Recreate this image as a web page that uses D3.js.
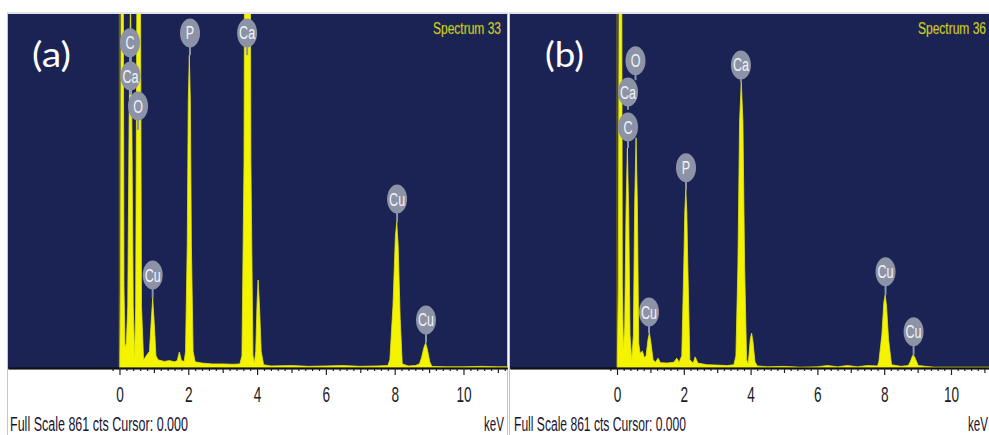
<!DOCTYPE html>
<html><head><meta charset="utf-8">
<script src="https://cdn.jsdelivr.net/npm/d3@7"></script>
<style>html,body{margin:0;padding:0;background:#fff;overflow:hidden;} svg{display:block;}</style>
</head><body><svg id="c" width="989" height="435"></svg>
<script>
// ---------------- data ----------------
const tickLabels = [0, 2, 4, 6, 8, 10];
const fullScale = 861;                       // cts
const spectrumNames = ["Spectrum 33", "Spectrum 36"];
const panelLetters = ["(a)", "(b)"];
const footerText = "Full Scale 861 cts Cursor: 0.000";
const unitText = "keV";

// spectrum (a): [keV, counts]
const specA = [
  [0.01,20],[0.03,200],[0.06,1500],[0.08,3000],[0.10,1500],[0.13,200],
  [0.16,51],[0.20,60],
  [0.24,150],[0.28,600],[0.32,900],[0.36,600],[0.40,150],
  [0.44,27],
  [0.47,150],[0.52,1200],[0.56,2500],[0.60,1200],[0.64,150],
  [0.70,20],[0.78,30],[0.83,36],
  [0.87,40],[0.92,110],[0.965,170],[1.01,110],[1.06,30],
  [1.12,20],[1.30,16],[1.45,18],[1.60,15],[1.68,18],[1.74,39],[1.80,18],[1.88,16],
  [1.92,40],[1.97,300],[2.00,650],[2.03,761],[2.06,650],[2.09,300],[2.14,40],[2.20,15],
  [2.40,12],[2.70,10],[3.00,10],[3.30,9],[3.50,10],
  [3.56,30],[3.62,500],[3.67,2000],[3.72,3000],[3.77,2000],[3.82,500],[3.88,30],
  [3.92,12],
  [3.96,40],[4.00,160],[4.03,214],[4.07,150],[4.12,40],[4.19,8],
  [4.40,5],[5.00,6],[5.50,4],[6.00,5],[6.50,6],[7.00,4],[7.50,5],[7.80,6],
  [7.86,20],[7.95,150],[8.02,320],[8.06,355],[8.10,300],[8.16,120],[8.22,10],
  [8.40,5],[8.60,6],[8.72,10],
  [8.78,25],[8.85,50],[8.90,61],[8.95,45],[9.02,15],[9.08,4],
  [9.50,3],[10.00,3],[10.50,4],[11.00,3],[11.30,3]
];

// spectrum (b): [keV, counts]
const specB = [
  [0.01,20],[0.04,200],[0.08,1500],[0.105,3000],[0.13,1500],[0.16,200],
  [0.19,49],
  [0.23,100],[0.27,380],[0.31,535],[0.35,380],[0.39,80],
  [0.44,19],
  [0.49,80],[0.53,400],[0.57,560],[0.61,400],[0.65,60],
  [0.69,36],[0.76,41],[0.82,25],
  [0.87,30],[0.93,70],[0.97,85],[1.01,65],[1.08,20],
  [1.15,14],[1.23,24],[1.30,13],[1.50,12],[1.70,14],[1.79,24],[1.86,14],
  [1.94,30],[2.00,250],[2.03,380],[2.06,433],[2.09,380],[2.12,250],[2.18,20],
  [2.28,12],[2.34,27],[2.42,12],[2.70,8],[3.00,7],[3.30,6],[3.50,8],
  [3.56,30],[3.62,250],[3.67,600],[3.72,696],[3.77,600],[3.82,250],[3.88,20],
  [3.92,10],
  [3.95,30],[3.99,70],[4.03,85],[4.07,65],[4.13,15],[4.20,5],
  [4.50,3],[5.00,4],[5.50,2],[6.00,3],[6.30,6],[6.60,3],[6.90,6],[7.20,3],[7.50,6],[7.80,5],
  [7.84,15],[7.93,80],[7.99,160],[8.03,178],[8.07,150],[8.13,70],[8.22,8],
  [8.50,4],[8.72,6],
  [8.78,15],[8.84,28],[8.87,32],[8.92,25],[9.02,6],
  [9.50,2],[10.00,2],[10.50,2],[11.20,2]
];

// peak markers: element, label centre (keV, cts), stem end (cts)
const peakLabelsA = [
  {el:"C",  keV:0.305, cts:791, stem:744},
  {el:"Ca", keV:0.32,  cts:710, stem:664},
  {el:"O",  keV:0.54,  cts:637, stem:579},
  {el:"Cu", keV:0.965, cts:226, stem:170},
  {el:"P",  keV:2.05,  cts:815, stem:761},
  {el:"Ca", keV:3.71,  cts:815, stem:761},
  {el:"Cu", keV:8.07,  cts:411, stem:355},
  {el:"Cu", keV:8.91,  cts:117, stem:61}
];
const peakLabelsB = [
  {el:"O",  keV:0.554, cts:747, stem:700},
  {el:"Ca", keV:0.33,  cts:671, stem:628},
  {el:"C",  keV:0.33,  cts:586, stem:535},
  {el:"P",  keV:2.066, cts:487, stem:433},
  {el:"Cu", keV:0.958, cts:136, stem:85},
  {el:"Ca", keV:3.71,  cts:737, stem:696},
  {el:"Cu", keV:8.04,  cts:234, stem:178},
  {el:"Cu", keV:8.88,  cts:88,  stem:32}
];

// ---------------- layout ----------------
const plotTop = 14, axisY = 368;
const layouts = [
  {left:8,   right:507, domain:[-3.241, 11.265], footX:10,  footW:178, unitX:484, nameX:433, letterX:32},
  {left:510, right:989, domain:[-3.204, 11.138], footX:514, footW:172, unitX:968, nameX:918, letterX:545}
];
const NAVY = "#1b2354", YEL = "#f4f400", OLIVE = "#5e5c26", LABEL = "#8d93a6";

const svg = d3.select("#c");
svg.append("rect").attr("width",989).attr("height",435).attr("fill","#fff");

function drawPanel(i, spec, labels) {
  const L = layouts[i];
  const g = svg.append("g");
  const x = d3.scaleLinear().domain(L.domain).range([L.left, L.right]);
  const y = d3.scaleLinear().domain([0, fullScale]).range([axisY, plotTop]);

  const clipId = "clip" + i;
  svg.append("defs").append("clipPath").attr("id", clipId)
    .append("rect").attr("x", L.left).attr("y", plotTop)
    .attr("width", L.right - L.left).attr("height", axisY - plotTop);

  // frame
  g.append("rect").attr("x", L.left - 0.5).attr("y", plotTop - 1)
    .attr("width", L.right - L.left + 1).attr("height", 435 - plotTop + 2)
    .attr("fill", "none").attr("stroke", "#c3c6d2").attr("stroke-width", 1);
  g.append("rect").attr("x", L.left).attr("y", plotTop)
    .attr("width", L.right - L.left).attr("height", axisY - plotTop).attr("fill", NAVY);

  const pg = g.append("g").attr("clip-path", `url(#${clipId})`);
  // zero strobe
  pg.append("line").attr("x1", x(0)).attr("x2", x(0)).attr("y1", y(0)).attr("y2", plotTop)
    .attr("stroke", OLIVE).attr("stroke-width", 1.6);
  // spectrum
  const area = d3.area().x(d => x(d[0])).y0(y(0)).y1(d => y(d[1]));
  pg.append("path").datum(spec).attr("d", area)
    .attr("fill", YEL).attr("stroke", "#e2e21a").attr("stroke-width", 0.8).attr("stroke-linejoin","round");

  // axes
  const minor = d3.range(-1, 57).map(k => k * 0.2).filter(v => Math.abs(v - Math.round(v)) > 1e-6);
  const ints = d3.range(0, 12).filter(v => !tickLabels.includes(v));
  const axG = g.append("g").attr("transform", `translate(0,${axisY})`);
  axG.append("g").call(d3.axisBottom(x).tickValues(minor).tickSize(3).tickSizeOuter(0).tickFormat(""));
  axG.append("g").call(d3.axisBottom(x).tickValues(ints).tickSize(5).tickSizeOuter(0).tickFormat(""));
  const major = axG.append("g").call(d3.axisBottom(x).tickValues(tickLabels).tickSize(7).tickSizeOuter(0).tickFormat(d3.format("d")));
  axG.selectAll("path.domain").attr("stroke", "#111").attr("stroke-width", 1.6);
  axG.selectAll(".tick line").attr("stroke", "#222").attr("stroke-width", 1.2);
  major.selectAll("text")
    .attr("y", 34).attr("dy", 0)
    .attr("transform", "scale(0.62,1)")
    .attr("font-family", "Liberation Sans, Arial, sans-serif")
    .attr("font-size", 22).attr("fill", "#1c1c22");

  // footer
  g.append("text").attr("x", L.footX).attr("y", 431)
    .attr("font-family", "Liberation Sans, Arial, sans-serif").attr("font-size", 20)
    .attr("textLength", L.footW).attr("lengthAdjust", "spacingAndGlyphs")
    .attr("fill", "#1a1430").text(footerText);
  g.append("text").attr("x", L.unitX).attr("y", 431)
    .attr("font-family", "Liberation Sans, Arial, sans-serif").attr("font-size", 20)
    .attr("textLength", 20).attr("lengthAdjust", "spacingAndGlyphs")
    .attr("fill", "#1a1430").text(unitText);

  // spectrum name
  g.append("text").attr("x", L.nameX).attr("y", 34)
    .attr("font-family", "Liberation Sans, Arial, sans-serif").attr("font-size", 16)
    .attr("textLength", 68).attr("lengthAdjust", "spacingAndGlyphs")
    .attr("fill", "#eeee22").attr("stroke", "#6a6a20").attr("stroke-width", 0.3)
    .text(spectrumNames[i]);

  // panel letter
  g.append("text").attr("x", L.letterX).attr("y", 67)
    .attr("font-family", "Lato, 'Open Sans', sans-serif").attr("font-size", 34)
    .attr("textLength", 39).attr("lengthAdjust", "spacingAndGlyphs")
    .attr("fill", "#ffffff").text(panelLetters[i]);

  // peak labels
  const lg = g.append("g").attr("clip-path", `url(#${clipId})`);
  labels.forEach(d => {
    const cx = x(d.keV), cy = y(d.cts);
    const m = lg.append("g").attr("transform", `translate(${cx},${cy})`);
    m.append("line").attr("x1", 0).attr("x2", 0).attr("y1", 12).attr("y2", y(d.stem) - cy)
      .attr("stroke", LABEL).attr("stroke-width", 2);
    m.append("ellipse").attr("rx", 10).attr("ry", 14.5).attr("fill", LABEL);
    m.append("text").attr("text-anchor", "middle").attr("y", 6.5)
      .attr("transform", "scale(0.66,1)")
      .attr("font-family", "Liberation Sans, Arial, sans-serif").attr("font-size", 19)
      .attr("fill", "#f2f3f8").text(d.el);
  });
}

drawPanel(0, specA, peakLabelsA);
drawPanel(1, specB, peakLabelsB);
</script>
</body></html>
